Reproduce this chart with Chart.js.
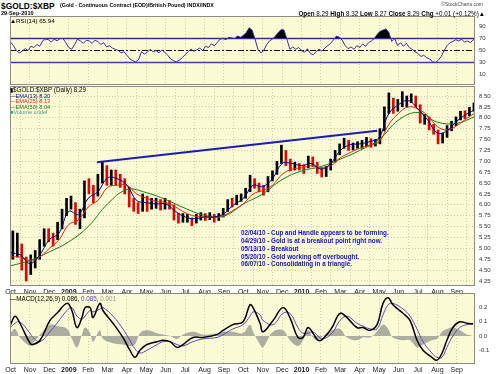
<!DOCTYPE html>
<html><head><meta charset="utf-8">
<script src="https://cdn.jsdelivr.net/npm/chart.js@4"></script>
<style>
body{margin:0;background:#fff;}
#wrap{position:relative;width:500px;height:374px;overflow:hidden;font-family:"Liberation Sans",Arial,sans-serif;background:#fff;}
canvas{position:absolute;left:0;}
.t{position:absolute;white-space:nowrap;line-height:1;}
.b{font-weight:bold;}
</style></head><body>
<div id="wrap">
<canvas id="rsi" width="500" height="69" style="top:16px"></canvas>
<canvas id="price" width="500" height="210" style="top:86px"></canvas>
<canvas id="macd" width="500" height="81" style="top:293px"></canvas>

<div class="t b" style="left:1px;top:1.5px;font-size:8.4px;">$GOLD:$XBP</div>
<div class="t b" style="left:60px;top:3px;font-size:5.3px;">(Gold - Continuous Contract (EOD)/British Pound) INDX/INDX</div>
<div class="t b" style="left:1px;top:10.5px;font-size:5.6px;">29-Sep-2010</div>
<div class="t" style="right:17px;top:1.5px;font-size:5px;color:#444;">©StockCharts.com</div>
<div class="t" style="right:15px;top:11px;font-size:6.3px;"><b>Open</b> 8.29 <b>High</b> 8.32 <b>Low</b> 8.27 <b>Close</b> 8.29 <b>Chg</b> +0.01 (+0.12%)▲</div>

<div class="t" style="left:10px;top:17.5px;font-size:6.2px;">▲RSI(14) 65.94</div>

<div class="t" style="left:10px;top:87px;font-size:6.3px;">▮$GOLD:$XBP (Daily) 8.29</div>
<div class="t" style="left:10px;top:93.5px;font-size:5.6px;color:#00007a;">—EMA(13) 8.20</div>
<div class="t" style="left:10px;top:99px;font-size:5.6px;color:#dd2a10;">—EMA(25) 8.13</div>
<div class="t" style="left:10px;top:104.5px;font-size:5.6px;color:#1e7a12;">—EMA(50) 8.04</div>
<div class="t" style="left:10px;top:110px;font-size:5.6px;color:#4f9a9a;">■Volume undef</div>

<div class="t b" style="left:241px;top:230px;font-size:6.3px;color:#1010c0;">02/04/10 - Cup and Handle appears to be forming.</div>
<div class="t b" style="left:241px;top:238px;font-size:6.3px;color:#1010c0;">04/29/10 - Gold is at a breakout point right now.</div>
<div class="t b" style="left:241px;top:245.5px;font-size:6.3px;color:#1010c0;">05/13/10 - Breakout</div>
<div class="t b" style="left:241px;top:253.5px;font-size:6.3px;color:#1010c0;">05/20/10 - Gold working off overbought.</div>
<div class="t b" style="left:241px;top:261px;font-size:6.3px;color:#1010c0;">06/07/10 - Consolidating in a triangle.</div>

<div class="t" style="left:10px;top:295.5px;font-size:6.3px;">—MACD(12,26,9) 0.086, <span style="color:#5a4ab8">0.085</span>, <span style="color:#999">0.001</span></div>
</div>
<script>
// ---- data (x in months since 1-Oct-2008) ----
const monthLabels = ['Oct','Nov','Dec','2009','Feb','Mar','Apr','May','Jun','Jul','Aug','Sep','Oct','Nov','Dec','2010','Feb','Mar','Apr','May','Jun','Jul','Aug','Sep'];
const priceTicks = [4.25,4.5,4.75,5,5.25,5.5,5.75,6,6.25,6.5,6.75,7,7.25,7.5,7.75,8,8.25,8.5];
const rsiTicks = [10,30,50,70,90];
const rsiLevels = [70,50,30];
const macdTicks = [-0.1,0,0.1,0.2];

const weekClose = [5.05,5.10,4.70,4.55,4.60,4.75,5.10,5.35,5.30,5.20,
5.50,5.80,6.00,6.05,5.65,5.70,6.50,6.40,6.20,6.55,
6.85,6.55,6.65,6.60,6.55,6.40,6.05,6.00,5.90,6.15,
5.95,6.05,6.05,6.00,6.05,6.00,5.72,5.65,5.70,5.70,
5.60,5.70,5.75,5.72,5.75,5.68,5.75,5.85,6.07,6.02,
6.15,6.20,6.30,6.62,6.45,6.40,6.30,6.60,6.70,6.95,
7.20,7.00,6.87,6.90,6.88,6.80,7.10,6.93,6.80,6.75,
6.80,7.00,7.20,7.35,7.45,7.30,7.37,7.40,7.40,7.52,
7.37,7.42,7.70,8.20,8.45,8.20,8.35,8.40,8.40,8.48,
8.30,7.95,8.00,7.78,7.70,7.52,7.58,7.78,7.87,7.98,
8.10,8.08,8.17,8.29];
const weekHigh = [5.40,5.35,5.10,4.80,4.85,4.95,5.20,5.45,5.45,5.35,
5.60,5.90,6.15,6.20,6.05,5.90,6.55,6.60,6.45,6.70,
6.98,6.90,6.80,6.80,6.70,6.60,6.40,6.15,6.05,6.25,
6.20,6.15,6.15,6.12,6.15,6.10,6.00,5.80,5.80,5.78,
5.70,5.78,5.82,5.80,5.82,5.78,5.80,5.92,6.12,6.15,
6.22,6.25,6.38,6.68,6.60,6.50,6.45,6.65,6.78,7.00,
7.37,7.25,7.05,6.98,6.95,6.92,7.12,7.10,6.98,6.85,
6.88,7.05,7.25,7.40,7.53,7.48,7.42,7.45,7.48,7.55,
7.52,7.50,7.75,8.25,8.57,8.45,8.42,8.60,8.50,8.55,
8.50,8.30,8.08,8.02,7.85,7.72,7.65,7.82,7.92,8.02,
8.15,8.16,8.24,8.34];
const weekLow = [4.75,4.80,4.50,4.25,4.40,4.55,4.75,5.05,5.15,5.05,
5.20,5.45,5.75,5.90,5.55,5.45,5.70,6.25,6.05,6.20,
6.50,6.45,6.45,6.45,6.40,6.25,5.95,5.85,5.80,5.85,
5.85,5.90,5.92,5.88,5.90,5.90,5.65,5.58,5.60,5.60,
5.52,5.58,5.65,5.64,5.66,5.60,5.64,5.72,5.85,5.95,
6.00,6.08,6.15,6.30,6.38,6.30,6.22,6.30,6.55,6.70,
6.95,6.90,6.78,6.80,6.80,6.72,6.85,6.88,6.72,6.64,
6.65,6.80,6.98,7.15,7.30,7.25,7.26,7.30,7.30,7.35,
7.32,7.35,7.40,7.70,8.10,8.10,8.15,8.25,8.25,8.35,
8.25,7.88,7.85,7.72,7.62,7.40,7.42,7.55,7.70,7.82,
7.95,7.98,8.05,8.15];

const ema13 = [4.90,4.85,4.65,4.85,5.20,5.35,5.85,5.78,6.15,6.30,
6.62,6.60,6.45,6.10,6.05,6.02,6.02,5.85,5.72,5.68,
5.72,5.72,5.80,6.00,6.15,6.45,6.42,6.60,6.95,6.95,
6.90,6.95,6.82,6.95,7.25,7.38,7.40,7.45,7.55,8.10,
8.30,8.40,8.20,7.95,7.65,7.70,7.92,8.08,8.20];
const ema25 = [4.80,4.80,4.70,4.80,5.00,5.20,5.55,5.65,5.95,6.10,
6.40,6.45,6.45,6.25,6.15,6.08,6.05,5.95,5.82,5.74,
5.72,5.72,5.76,5.88,6.02,6.25,6.33,6.45,6.70,6.82,
6.85,6.90,6.85,6.90,7.08,7.20,7.30,7.37,7.45,7.85,
8.10,8.25,8.20,8.05,7.80,7.72,7.82,7.98,8.13];
const ema50 = [4.60,4.72,4.92,5.15,5.50,6.02,6.35,6.28,6.12,5.92,
5.76,5.74,6.02,6.25,6.58,6.78,6.88,7.05,7.25,7.50,
7.95,8.12,7.90,7.87,8.04];

const trendLine = [{x:4.45,y:6.98},{x:18.9,y:7.70}];

const rsiValues = [64,58,50,46,49,53,50,57,55,60,
57,66,69,68,64,69,66,70,70,63,
55,52,60,69,66,62,67,66,62,67,
65,60,63,56,58,54,52,50,46,48,
42,36,33,31,35,48,44,47,52,48,
50,46,51,47,42,36,33,31,34,38,
43,48,52,49,51,54,50,57,55,61,
58,63,69,70,68,72,71,70,74,72,
75,80,88,84,69,52,46,50,60,66,
69,74,80,85,84,68,52,56,52,55,
50,47,53,45,43,48,52,49,54,58,
62,68,74,72,67,58,53,56,52,58,
55,61,57,63,66,70,77,82,84,86,
80,65,70,58,63,57,62,55,52,48,
45,40,42,38,36,31,30,34,40,50,
58,63,65,68,66,69,64,66,63,68,
66];

const macdT = [0.0,0.23,0.48,1.0,1.15,1.52,2.03,2.39,2.91,3.16,3.42,3.68,3.84,4.1,4.25,4.6,4.76,5.28,5.79,6.15,6.41,6.67,7.03,7.55,7.86,8.22,8.58,8.89,9.4,9.92,10.64,10.95,11.46,11.98,12.34,12.5,12.86,13.01,13.53,14.04,14.4,14.81,15.07,15.33,15.59,15.85,16.1,16.57,16.98,17.34,17.85,18.16,18.53,18.89,19.2,19.46,19.71,20.23,20.59,20.95,21.26,21.72,21.98,22.24,22.49,22.8,23.16,23.52,23.84];
const macdVal = [0.08,0.14,0.09,-0.05,-0.06,-0.03,0.11,0.16,0.23,0.18,0.06,0.13,0.20,0.20,0.13,0.23,0.18,0.09,-0.01,-0.10,-0.15,-0.10,-0.06,-0.04,-0.03,-0.04,-0.08,-0.06,-0.01,-0.01,0.01,0.04,0.08,0.10,0.22,0.20,0.09,0.03,0.11,0.20,0.13,-0.01,-0.01,0.06,0.02,-0.03,-0.02,0.06,0.16,0.13,0.06,0.06,0.04,0.08,0.23,0.27,0.22,0.16,0.11,-0.03,-0.10,-0.15,-0.17,-0.12,-0.03,0.06,0.10,0.09,0.086];
const macdSig = [0.06,0.09,0.10,0.02,-0.01,-0.04,0.03,0.09,0.18,0.20,0.14,0.12,0.14,0.18,0.17,0.19,0.20,0.14,0.05,-0.03,-0.09,-0.12,-0.10,-0.06,-0.04,-0.04,-0.06,-0.07,-0.04,-0.02,-0.01,0.01,0.05,0.08,0.14,0.17,0.15,0.11,0.08,0.16,0.16,0.06,0.02,0.02,0.03,0.00,-0.02,0.02,0.11,0.14,0.09,0.07,0.05,0.05,0.15,0.22,0.23,0.19,0.14,0.05,-0.04,-0.12,-0.15,-0.15,-0.08,0.00,0.06,0.08,0.085];
const macdHist = [0.02,0.05,-0.01,-0.07,-0.05,0.01,0.08,0.07,0.05,-0.02,-0.08,0.01,0.06,0.02,-0.04,0.04,-0.02,-0.05,-0.06,-0.07,-0.06,0.02,0.04,0.02,0.01,0.00,-0.02,0.01,0.03,0.01,0.02,0.03,0.03,0.02,0.08,0.03,-0.06,-0.08,0.03,0.04,-0.03,-0.07,-0.03,0.04,-0.01,-0.03,0.00,0.04,0.05,-0.01,-0.03,-0.01,-0.01,0.03,0.08,0.05,-0.01,-0.03,-0.03,-0.08,-0.06,-0.03,-0.02,0.03,0.05,0.06,0.04,0.01,0.001];

// ---- helpers ----
const SPAN = 24;
const X_MIN = -0.03, X_MAX = 23.94;
const monthTicks = monthLabels.map((_, i) => i);
const series = (arr) => arr.map((v, i) => ({x: i * SPAN / (arr.length - 1), y: v}));
const weekX = (i) => (i + 0.5) * SPAN / weekClose.length;
const pairs = (xs, ys) => xs.map((x, i) => ({x: x, y: ys[i]}));

Chart.defaults.font.family = '"Liberation Sans", Arial, sans-serif';
Chart.defaults.color = '#222';

const panel = {
  id: 'panel',
  beforeDraw(c) { const a = c.chartArea, x = c.ctx; x.save(); x.fillStyle = '#fafad4'; x.fillRect(a.left, a.top, a.width, a.height); x.restore(); },
  afterDraw(c) { const a = c.chartArea, x = c.ctx; x.save(); x.strokeStyle = '#8c8c80'; x.lineWidth = 1; x.strokeRect(a.left + 0.5, a.top + 0.5, a.width - 1, a.height - 1); x.restore(); }
};

function opts(yMin, yMax, yTicks, fmt, showX, xH, yGrid) {
  return {
    responsive: false, animation: false, events: [],
    layout: {padding: {left: 10, right: 0, top: 0, bottom: 0}},
    plugins: {legend: {display: false}, tooltip: {enabled: false}},
    scales: {
      x: {
        type: 'linear', min: X_MIN, max: X_MAX, offset: false,
        afterBuildTicks: s => { s.ticks = monthTicks.map(v => ({value: v})); },
        afterFit: s => { s.height = xH; s.paddingLeft = 0; s.paddingRight = 0; },
        grid: {color: 'rgba(150,150,120,0.45)', drawTicks: false},
        border: {display: false, dash: [1, 2]},
        ticks: {display: showX, autoSkip: false, maxRotation: 0, padding: 1.5, color: '#222',
          font: ctx => ({size: 7, weight: /^\d{4}$/.test(monthLabels[ctx.index]) ? 'bold' : 'normal'}),
          callback: (v, i) => monthLabels[i]}
      },
      y: {
        position: 'right', min: yMin, max: yMax,
        afterBuildTicks: s => { s.ticks = yTicks.map(v => ({value: v})); },
        afterFit: s => { s.width = 25; s.paddingTop = 0; s.paddingBottom = 0; },
        grid: {display: yGrid, color: 'rgba(150,150,120,0.45)', drawTicks: false},
        border: {display: false, dash: [1, 2]},
        ticks: {padding: 4, font: {size: 6}, color: '#333', callback: v => fmt(v)}
      }
    }
  };
}

// ---- RSI ----
const lvlDs = rsiLevels.map(l => ({
  type: 'line', data: [{x: X_MIN, y: l}, {x: X_MAX, y: l}], pointRadius: 0,
  borderColor: l === 50 ? '#111' : '#4a3aa6', borderWidth: l === 50 ? 1 : 1.5,
  borderDash: l === 50 ? [6, 2, 2, 2] : [], fill: false, order: 2
}));
new Chart(document.getElementById('rsi'), {
  type: 'line',
  data: {datasets: [...lvlDs, {
    data: series(rsiValues), borderColor: '#3a2f9e', borderWidth: 1, pointRadius: 0, tension: 0,
    fill: {target: {value: 70}, above: '#000', below: 'rgba(0,0,0,0)'}, order: 1
  }]},
  options: opts(-7.5, 107.5, rsiTicks, v => String(v), false, 0, false),
  plugins: [panel]
});

// ---- Price ----
const barColors = weekClose.map((c, i) => (i === 0 || c >= weekClose[i - 1]) ? '#000000' : '#e00000');
new Chart(document.getElementById('price'), {
  type: 'line',
  data: {datasets: [
    {type: 'bar', data: weekClose.map((c, i) => ({x: weekX(i), y: [weekLow[i], weekHigh[i]]})),
     backgroundColor: barColors, barThickness: 2, grouped: false, order: 5},
    {data: series(ema50), borderColor: '#1e7a12', borderWidth: 1, pointRadius: 0, tension: 0.4, order: 3},
    {data: series(ema25), borderColor: '#dd2a10', borderWidth: 1, pointRadius: 0, tension: 0.4, order: 2},
    {data: series(ema13), borderColor: '#00007a', borderWidth: 1, pointRadius: 0, tension: 0.4, order: 1},
    {data: trendLine, borderColor: '#1c1cb4', borderWidth: 2, pointRadius: 0, order: 0}
  ]},
  options: opts(4.135, 8.73, priceTicks, v => v.toFixed(2), true, 10, true),
  plugins: [panel]
});

// ---- MACD ----
new Chart(document.getElementById('macd'), {
  type: 'line',
  data: {datasets: [
    {data: pairs(macdT, macdHist), borderWidth: 0, borderColor: 'rgba(0,0,0,0)', backgroundColor: 'rgba(140,140,140,0.7)',
     pointRadius: 0, tension: 0.4, fill: 'origin', order: 3},
    {data: pairs(macdT, macdSig), borderColor: '#5a4ab8', borderWidth: 1, pointRadius: 0, tension: 0.4, order: 2},
    {data: pairs(macdT, macdVal), borderColor: '#000', borderWidth: 1.5, pointRadius: 0, tension: 0.4, order: 1}
  ]},
  options: opts(-0.197, 0.303, macdTicks, v => v.toFixed(1), true, 10, false),
  plugins: [panel]
});
</script>
</body></html>
